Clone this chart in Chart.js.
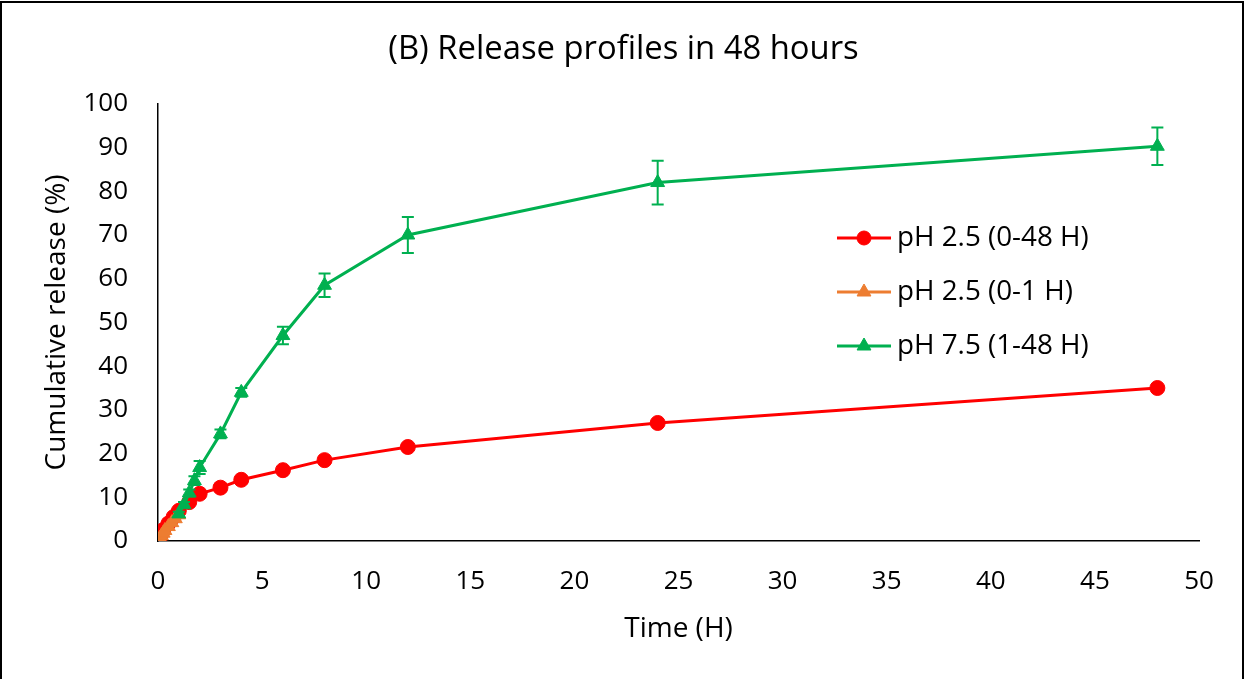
<!DOCTYPE html>
<html>
<head>
<meta charset="utf-8">
<script src="https://cdn.jsdelivr.net/npm/chart.js@4.4.1/dist/chart.umd.min.js"></script>
<style>
  html, body { margin: 0; padding: 0; background: #fff; }
  #wrap { position: relative; width: 1247px; height: 679px; overflow: hidden; }
  #frame { position: absolute; left: 0; top: 1px; width: 1244px; height: 720px;
           box-sizing: border-box; border: 2px solid #000; pointer-events: none; }
</style>
</head>
<body>
<div id="wrap">
  <canvas id="c" width="1247" height="679"></canvas>
  <div id="frame"></div>
</div>
<script>
// time points (hours) and cumulative release (%)
const redTimes = [0, 0.083, 0.167, 0.25, 0.5, 0.75, 1, 1.5, 2, 3, 4, 6, 8, 12, 24, 48];
const redVals  = [0, 0.9, 1.7, 2.5, 4, 5.5, 6.9, 8.9, 10.8, 12.2, 14, 16.2, 18.5, 21.5, 27, 35];

const orangeTimes = [0, 0.083, 0.167, 0.25, 0.333, 0.5, 0.667, 0.833, 1];
const orangeVals  = [0, 0.6, 1.2, 1.8, 2.4, 3.3, 4.2, 5.1, 6];

const greenTimes = [1, 1.25, 1.5, 1.75, 2, 3, 4, 6, 8, 12, 24, 48];
const greenVals  = [6.2, 8.3, 11, 13.8, 16.8, 24.5, 34, 47, 58.5, 70, 82, 90.3];
const greenErr   = [0.5, 0.6, 0.8, 1, 1.5, 1, 1, 2, 2.7, 4.1, 5, 4.3];

const seriesLabels = ['pH 2.5 (0-48 H)', 'pH 2.5 (0-1 H)', 'pH 7.5 (1-48 H)'];
const titleText = '(B) Release profiles in 48 hours';
const xTitle = 'Time (H)';
const yTitle = 'Cumulative release (%)';

const RED = '#FF0000', ORANGE = '#ED7D31', GREEN = '#00B050';
const FONT = "'Open Sans', sans-serif";

const pts = (xs, ys) => xs.map((x, i) => ({ x, y: ys[i] }));

const errorBars = {
  id: 'errorBars',
  afterDatasetsDraw(chart) {
    const ds = chart.data.datasets.findIndex(d => d.errors);
    if (ds < 0) return;
    const meta = chart.getDatasetMeta(ds);
    const errs = chart.data.datasets[ds].errors;
    const y = chart.scales.y, ctx = chart.ctx;
    ctx.save();
    ctx.strokeStyle = GREEN; ctx.lineWidth = 2;
    meta.data.forEach((p, i) => {
      const v = chart.data.datasets[ds].data[i].y;
      const top = y.getPixelForValue(v + errs[i]);
      const bot = y.getPixelForValue(v - errs[i]);
      ctx.beginPath();
      ctx.moveTo(p.x, top); ctx.lineTo(p.x, bot);
      ctx.moveTo(p.x - 6, top); ctx.lineTo(p.x + 6, top);
      ctx.moveTo(p.x - 6, bot); ctx.lineTo(p.x + 6, bot);
      ctx.stroke();
    });
    ctx.restore();
  }
};

const sideLegend = {
  id: 'sideLegend',
  afterDraw(chart) {
    const ctx = chart.ctx;
    const rows = [
      { c: RED, style: 'circle', r: 7, y: 238 },
      { c: ORANGE, style: 'triangle', r: 8, y: 292 },
      { c: GREEN, style: 'triangle', r: 8, y: 346 },
    ];
    ctx.save();
    rows.forEach((row, i) => {
      ctx.strokeStyle = row.c; ctx.lineWidth = 3;
      ctx.beginPath(); ctx.moveTo(837, row.y); ctx.lineTo(891, row.y); ctx.stroke();
      ctx.fillStyle = row.c; ctx.lineWidth = 1;
      Chart.helpers.drawPoint(ctx, { pointStyle: row.style, radius: row.r, borderWidth: 1, rotation: 0 }, 864, row.y);
      ctx.fillStyle = '#000';
      ctx.font = "27.8px " + FONT;
      ctx.textBaseline = 'middle';
      ctx.fillText(seriesLabels[i], 897, row.y);
    });
    ctx.restore();
  }
};

new Chart(document.getElementById('c'), {
  type: 'line',
  data: {
    datasets: [
      { label: seriesLabels[0], data: pts(redTimes, redVals), borderColor: RED, backgroundColor: RED,
        borderWidth: 3, pointStyle: 'circle', pointRadius: 7.5, pointBorderWidth: 1, order: 2 },
      { label: seriesLabels[1], data: pts(orangeTimes, orangeVals), borderColor: ORANGE, backgroundColor: ORANGE,
        borderWidth: 3, pointStyle: 'triangle', pointRadius: 8, pointBorderWidth: 1, order: 1 },
      { label: seriesLabels[2], data: pts(greenTimes, greenVals), errors: greenErr, borderColor: GREEN, backgroundColor: GREEN,
        borderWidth: 3, pointStyle: 'triangle', pointRadius: 8, pointBorderWidth: 1, order: 0 },
    ]
  },
  options: {
    responsive: false,
    animation: false,
    events: [],
    layout: { padding: 0 },
    elements: { line: { tension: 0 } },
    plugins: {
      legend: { display: false },
      tooltip: { enabled: false },
      title: {
        display: true, text: titleText, color: '#000',
        font: { family: FONT, size: 32.8, weight: 'normal', lineHeight: 1.2 },
        padding: { top: 30, bottom: 34.5 }
      }
    },
    scales: {
      x: {
        type: 'linear', min: 0, max: 50,
        grid: { display: false, drawTicks: false },
        border: { display: true, color: '#000', width: 1.5 },
        ticks: { stepSize: 5, color: '#000', padding: 25, maxRotation: 0,
                 font: { family: FONT, size: 26, lineHeight: 1.2 } },
        title: { display: true, text: xTitle, color: '#000',
                 font: { family: FONT, size: 28, lineHeight: 1.2 }, padding: { top: 0, bottom: 32.7 } },
        afterFit(s) { s.height = 138; }
      },
      y: {
        min: 0, max: 100,
        grid: { display: false, drawTicks: false },
        border: { display: true, color: '#000', width: 1.5 },
        ticks: { stepSize: 10, color: '#000', padding: 30,
                 font: { family: FONT, size: 26, lineHeight: 1.2 } },
        title: { display: true, text: yTitle, color: '#000',
                 font: { family: FONT, size: 28, lineHeight: 1.2 }, padding: { top: 40, bottom: 0 } },
        afterFit(s) { s.width = 158; }
      },
      // empty right-hand box so the plot ends at x = 50 while the title stays centred on the page
      yRight: {
        position: 'right', min: 0, max: 100,
        grid: { display: false, drawTicks: false },
        border: { display: false },
        ticks: { display: false },
        afterFit(s) { s.width = 48; }
      }
    }
  },
  plugins: [errorBars, sideLegend]
});
</script>
</body>
</html>
